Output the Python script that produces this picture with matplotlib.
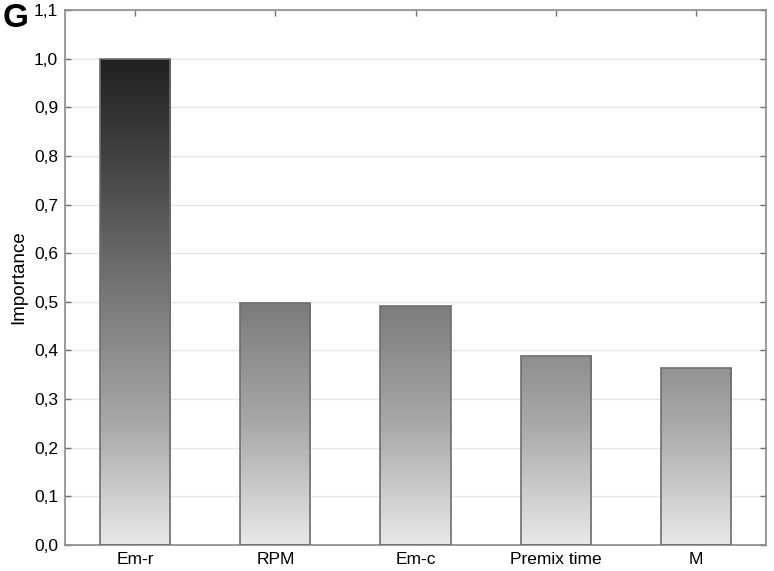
import numpy as np
import matplotlib
matplotlib.use('Agg')
import matplotlib.pyplot as plt
from matplotlib.ticker import MultipleLocator, FuncFormatter
from matplotlib.colors import LinearSegmentedColormap

plt.rcParams['font.family'] = ['Liberation Sans', 'DejaVu Sans']

# data
categories = ['Em-r', 'RPM', 'Em-c', 'Premix time', 'M']
importance = [1.0, 0.497, 0.491, 0.388, 0.364]

fig = plt.figure(figsize=(7.74, 5.71), dpi=100)
ax = fig.add_axes([0.084, 0.0455, 0.9057, 0.937])

x = np.arange(len(categories))
width = 0.5
ax.set_xlim(-0.5, len(categories) - 0.5)
ax.set_ylim(0, 1.1)

# gradient shared by y position: dark at 1.0, light at 0.0
cmap = LinearSegmentedColormap.from_list('g', ['#e8e8e8', '#a8a8a8', '#7a7a7a', '#4a4a4a', '#202020'])
grad = np.linspace(0, 1, 256).reshape(-1, 1)
bars = ax.bar(x, importance, width=width, facecolor='none', edgecolor='#6e6e6e', linewidth=1.2, zorder=3)
for b in bars:
    bx, by = b.get_x(), b.get_y()
    bw, bh = b.get_width(), b.get_height()
    im = ax.imshow(grad, cmap=cmap, origin='lower', aspect='auto',
                   extent=[bx, bx + bw, 0, 1.0], vmin=0, vmax=1, zorder=2)
    im.set_clip_path(b)

ax.set_xticks(x)
ax.set_xticklabels(categories, fontsize=12.5)
ax.yaxis.set_major_locator(MultipleLocator(0.1))
ax.yaxis.set_major_formatter(FuncFormatter(lambda v, p: ('%.1f' % v).replace('.', ',')))
ax.tick_params(axis='y', labelsize=12.5)
ax.tick_params(direction='in', length=4, color='#707070', top=True, right=True, width=1, pad=5)
ax.yaxis.grid(True, color='#e6e6e6', linewidth=1, zorder=0)
ax.set_axisbelow(True)
for s in ax.spines.values():
    s.set_color('#8a8a8a')
    s.set_linewidth(1.2)

ax.set_ylabel('Importance', fontsize=13.5, labelpad=5)
fig.text(0.003, 0.953, 'G', fontsize=24, fontweight='bold')

plt.savefig('out.png', dpi=100)
